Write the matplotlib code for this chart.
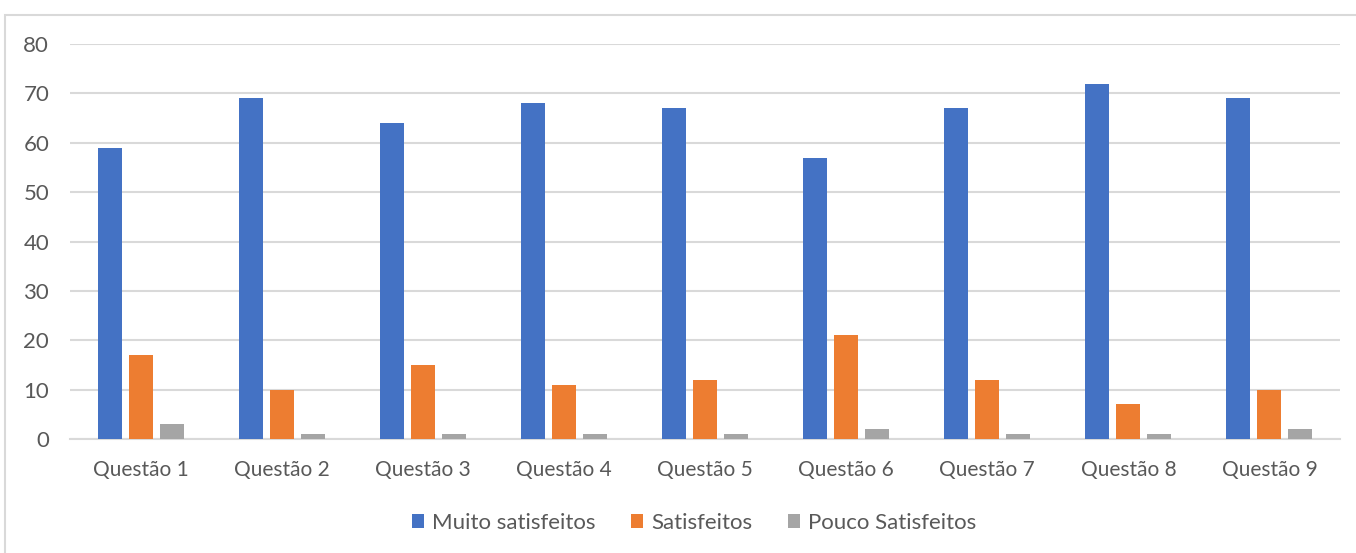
import numpy as np
import matplotlib.pyplot as plt
from matplotlib.patches import Rectangle

questoes = ['Questão 1', 'Questão 2', 'Questão 3', 'Questão 4', 'Questão 5',
            'Questão 6', 'Questão 7', 'Questão 8', 'Questão 9']
muito_satisfeitos = [59, 69, 64, 68, 67, 57, 67, 72, 69]
satisfeitos = [17, 10, 15, 11, 12, 21, 12, 7, 10]
pouco_satisfeitos = [3, 1, 1, 1, 1, 2, 1, 1, 2]

plt.rcParams['font.family'] = ['Lato', 'DejaVu Sans']
txt = '#595959'

fig = plt.figure(figsize=(13.56, 5.53), dpi=100)
# moldura do gráfico
fig.patches.append(Rectangle((5 / 1356, -0.05), 1.1, 1 - 15 / 553 + 0.05,
                             transform=fig.transFigure, fill=False,
                             edgecolor='#D9D9D9', linewidth=1.5))

ax = fig.add_axes([70 / 1356, 1 - 439 / 553, 1270 / 1356, 395 / 553])
x = np.arange(len(questoes))
w = 0.17
step = 0.22
ax.bar(x - step, muito_satisfeitos, w, color='#4472C4', label='Muito satisfeitos', zorder=3)
ax.bar(x, satisfeitos, w, color='#ED7D31', label='Satisfeitos', zorder=3)
ax.bar(x + step, pouco_satisfeitos, w, color='#A5A5A5', label='Pouco Satisfeitos', zorder=3)

ax.set_xlim(-0.5, len(questoes) - 0.5)
ax.set_ylim(0, 80)
ax.set_yticks(range(0, 81, 10))
ax.set_xticks(x)
ax.set_xticklabels(questoes)
ax.yaxis.grid(True, color='#D9D9D9', linewidth=1.5, zorder=0)
for s in ['top', 'right', 'left']:
    ax.spines[s].set_visible(False)
ax.spines['bottom'].set_color('#D9D9D9')
ax.spines['bottom'].set_linewidth(1.5)
ax.tick_params(axis='x', length=0, labelsize=15, colors=txt, pad=15)
ax.tick_params(axis='y', length=0, labelsize=16, colors=txt, pad=15)

leg = fig.legend(loc='center', bbox_to_anchor=(694 / 1356, 1 - 523 / 553), ncol=3,
                 frameon=False, fontsize=16, handlelength=0.55, handleheight=0.55,
                 handletextpad=0.35, columnspacing=1.6)
for t in leg.get_texts():
    t.set_color(txt)

fig.savefig('out.png', dpi=100)
